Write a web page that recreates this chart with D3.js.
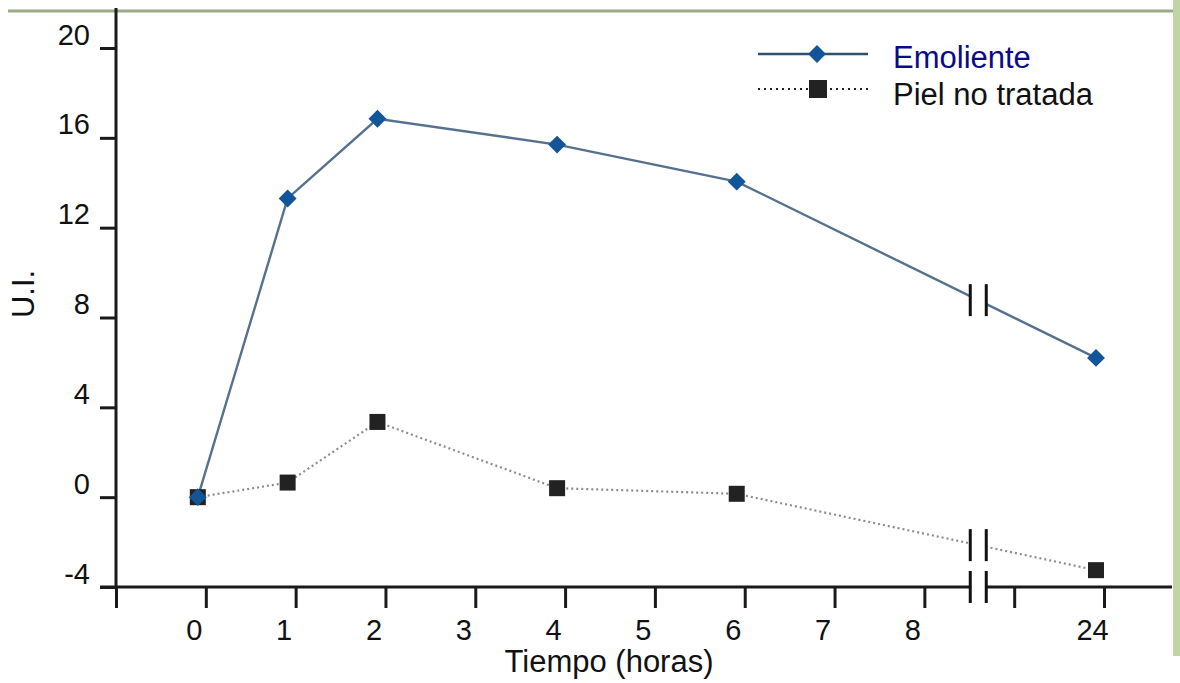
<!DOCTYPE html>
<html>
<head>
<meta charset="utf-8">
<script src="https://cdn.jsdelivr.net/npm/d3@7"></script>
<style>
  body { margin: 0; background: #fff; }
  text { font-family: "Liberation Sans", Arial, sans-serif; fill: #111; }
</style>
</head>
<body>
<div id="chart"></div>
<script>
// data
var hours = [0, 1, 2, 4, 6, 24];
var emoliente = [0, 13.3, 16.85, 15.7, 14.05, 6.2];
var pielNoTratada = [0, 0.65, 3.35, 0.4, 0.15, -3.25];
var seriesNames = ['Emoliente', 'Piel no tratada'];
var xTickSlots = [-1, 0, 1, 2, 3, 4, 5, 6, 7, 8, 9, 10];
var xTickLabels = ['', '0', '1', '2', '3', '4', '5', '6', '7', '8', '', '24'];
var yTicks = [-4, 0, 4, 8, 12, 16, 20];

var W = 1180, H = 683;
var markOff = -8;   // markers sit a little left of their ticks
var breakSlot = 8.6;

// hours after 8 are squeezed past the axis break
function slotOf(h) { return h <= 8 ? h : 10; }

var x = d3.scaleLinear().domain([-1, 10]).range([116, 1104]);
var y = d3.scaleLinear().domain([-4, 20]).range([587, 48]);

var svg = d3.select('#chart').append('svg')
    .attr('width', W).attr('height', H);

// green frame of the original slide
svg.append('line')
    .attr('x1', 8).attr('x2', 1174).attr('y1', 11).attr('y2', 11)
    .style('stroke', '#9aab88').style('stroke-width', 3);
svg.append('rect')
    .attr('x', 1173).attr('y', 0).attr('width', 7).attr('height', 656)
    .style('fill', '#bdd6a3');

function pts(vals) {
    return vals.map(function(v, i) {
        return [x(slotOf(hours[i])) + markOff, y(v)];
    });
}
var emoPts = pts(emoliente);
var pielPts = pts(pielNoTratada);

var line = d3.line();

svg.append('path')
    .attr('d', line(pielPts))
    .style('fill', 'none')
    .style('stroke', '#8c8c8c')
    .style('stroke-width', 2.2)
    .style('stroke-dasharray', '2,3');

svg.append('path')
    .attr('d', line(emoPts))
    .style('fill', 'none')
    .style('stroke', '#56718f')
    .style('stroke-width', 2.4);

// axes
var yAxis = d3.axisLeft(y).tickValues(yTicks).tickSize(16).tickPadding(10)
    .tickFormat(function(d) { return String(d); });
var gy = svg.append('g').attr('transform', 'translate(116,0)').call(yAxis);
gy.select('.domain').remove();
gy.selectAll('line').style('stroke', '#1a1a1a').style('stroke-width', 3);
gy.selectAll('text')
    .attr('dy', '-4px')
    .style('font-size', '29px')
    .style('fill', '#111');

svg.append('line')
    .attr('x1', 116).attr('x2', 116).attr('y1', 8).attr('y2', 588)
    .style('stroke', '#1a1a1a').style('stroke-width', 3);

var xAxis = d3.axisBottom(x).tickValues(xTickSlots).tickSize(21)
    .tickFormat(function(d, i) { return xTickLabels[i]; });
var gx = svg.append('g').attr('transform', 'translate(0,587)').call(xAxis);
gx.select('.domain').remove();
gx.selectAll('line').style('stroke', '#1a1a1a').style('stroke-width', 3);
gx.selectAll('text')
    .attr('y', 53).attr('dy', 0).attr('dx', -12)
    .style('font-size', '29px')
    .style('fill', '#111');

svg.append('line')
    .attr('x1', 100).attr('x2', 1172).attr('y1', 587).attr('y2', 587)
    .style('stroke', '#1a1a1a').style('stroke-width', 3);

// axis break: white gap + double bars
var bx = x(breakSlot);
svg.append('rect')
    .attr('x', bx - 7).attr('y', 30).attr('width', 14).attr('height', 570)
    .style('fill', '#fff');

function yAtPx(p, px) {
    for (var i = 0; i < p.length - 1; i++) {
        if (px >= p[i][0] && px <= p[i + 1][0]) {
            var t = (px - p[i][0]) / (p[i + 1][0] - p[i][0]);
            return p[i][1] + t * (p[i + 1][1] - p[i][1]);
        }
    }
    return p[p.length - 1][1];
}

[yAtPx(emoPts, bx), yAtPx(pielPts, bx), 587].forEach(function(cy) {
    [-8, 8].forEach(function(dx) {
        svg.append('line')
            .attr('x1', bx + dx).attr('x2', bx + dx)
            .attr('y1', cy - 16).attr('y2', cy + 16)
            .style('stroke', '#111').style('stroke-width', 3);
    });
});

// markers
svg.selectAll('rect.piel').data(pielPts).enter().append('rect')
    .attr('class', 'piel')
    .attr('x', function(d) { return d[0] - 8; })
    .attr('y', function(d) { return d[1] - 8; })
    .attr('width', 16).attr('height', 16)
    .style('fill', '#222');

var diamond = d3.symbol().type(d3.symbolSquare).size(160);
svg.selectAll('path.emo').data(emoPts).enter().append('path')
    .attr('class', 'emo')
    .attr('d', diamond)
    .attr('transform', function(d) { return 'translate(' + d[0] + ',' + d[1] + ') rotate(45)'; })
    .style('fill', '#125699');

// titles
svg.append('text')
    .attr('x', 609).attr('y', 672)
    .attr('text-anchor', 'middle')
    .style('font-size', '31px')
    .text('Tiempo (horas)');

svg.append('text')
    .attr('transform', 'translate(34,294) rotate(-90)')
    .attr('text-anchor', 'middle')
    .style('font-size', '31px')
    .text('U.I.');

// legend
var lg = svg.append('g');
lg.append('line')
    .attr('x1', 758).attr('x2', 868).attr('y1', 54).attr('y2', 54)
    .style('stroke', '#2f4f6f').style('stroke-width', 2.4);
lg.append('path')
    .attr('d', diamond)
    .attr('transform', 'translate(817,54) rotate(45)')
    .style('fill', '#125699');
lg.append('text')
    .attr('x', 893).attr('y', 68)
    .style('font-size', '31px')
    .style('fill', '#0a0a8a')
    .text(seriesNames[0]);

lg.append('line')
    .attr('x1', 758).attr('x2', 868).attr('y1', 89).attr('y2', 89)
    .style('stroke', '#222').style('stroke-width', 2.2)
    .style('stroke-dasharray', '2,4');
lg.append('rect')
    .attr('x', 809).attr('y', 80).attr('width', 18).attr('height', 18)
    .style('fill', '#222');
lg.append('text')
    .attr('x', 893).attr('y', 105)
    .style('font-size', '31px')
    .text(seriesNames[1]);
</script>
</body>
</html>
